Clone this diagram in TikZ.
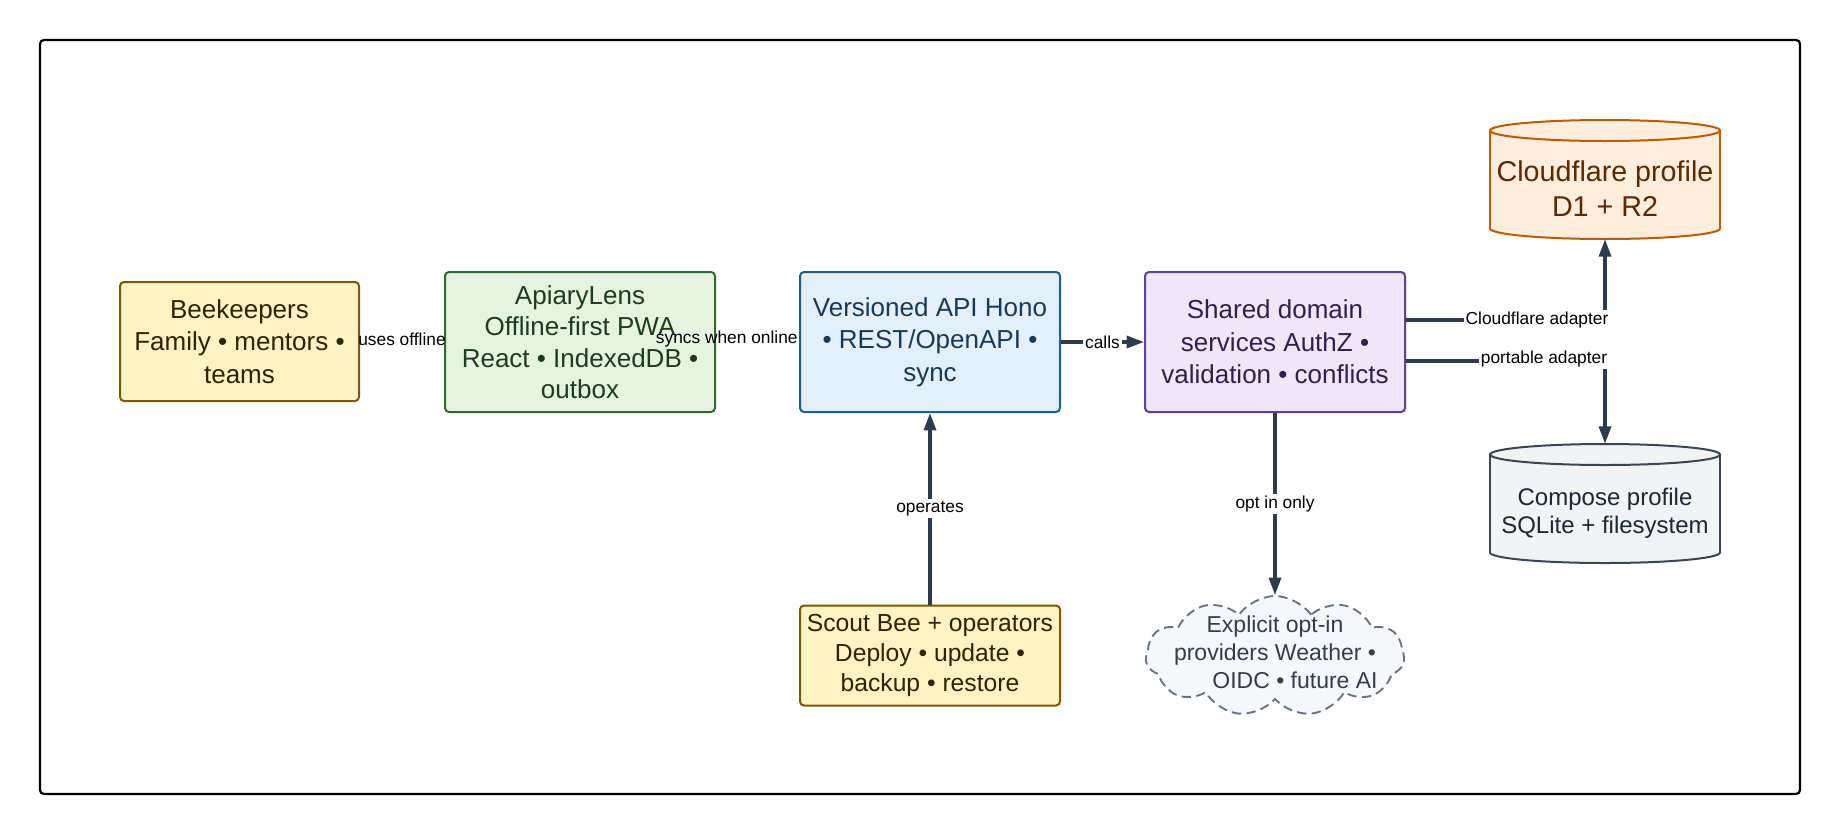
\documentclass[tikz,border=0pt]{standalone}
\usepackage{fontspec}
\setmainfont{Liberation Sans}
\usetikzlibrary{shapes.symbols,arrows.meta}
\definecolor{ylwfill}{HTML}{FFF3C4}
\definecolor{ylwline}{HTML}{7A5A00}
\definecolor{ylwtext}{HTML}{2E2300}
\definecolor{grnfill}{HTML}{E5F3E1}
\definecolor{grnline}{HTML}{2F6A2F}
\definecolor{grntext}{HTML}{1D3D1D}
\definecolor{blufill}{HTML}{E3EFF9}
\definecolor{bluline}{HTML}{215E8C}
\definecolor{blutext}{HTML}{173A58}
\definecolor{purfill}{HTML}{EFE7F8}
\definecolor{purline}{HTML}{5E4096}
\definecolor{purtext}{HTML}{2F2050}
\definecolor{orgfill}{HTML}{FFEEDE}
\definecolor{orgline}{HTML}{C25A00}
\definecolor{orgtext}{HTML}{5A2A00}
\definecolor{gryfill}{HTML}{F1F3F5}
\definecolor{gryline}{HTML}{3C4652}
\definecolor{grytext}{HTML}{1E2732}
\definecolor{cldfill}{HTML}{F5F7FA}
\definecolor{cldline}{HTML}{687380}
\definecolor{cldtext}{HTML}{343D48}
\definecolor{edgecol}{HTML}{2E3B4E}
\newcommand\mainfnt{\fontsize{19.5}{24.5}\selectfont}
\newcommand\lblfnt{\fontsize{13}{15}\selectfont}
\tikzset{
  box/.style={draw, rounded corners=3pt, line width=1.5pt, align=center, inner sep=0pt,
    minimum width=195pt, minimum height=105pt, font=\mainfnt},
  cyltext/.style={align=center, inner sep=0pt},
  edge/.style={draw=edgecol, line width=2.4pt, -{Triangle[length=13pt,width=9pt]}},
  elabel/.style={font=\lblfnt, text=black, inner sep=1.5pt},
  onwhite/.style={fill=white}
}
\begin{document}
\begin{tikzpicture}[x=0.75pt,y=-0.75pt]
\useasboundingbox (0,0) rectangle (1840,836);
\draw[line width=1.7pt, rounded corners=3pt] (40,40) rectangle (1800,794);

% boxes
\node[box, fill=ylwfill, draw=ylwline, text=ylwtext, minimum width=179.25pt, minimum height=89.25pt] (bk) at (239.5,341.5) {Beekeepers\\Family • mentors •\\teams};
\node[box, fill=grnfill, draw=grnline, text=grntext, minimum width=202.5pt, font=\fontsize{19.5}{23.6}\selectfont] (al) at (580,342) {ApiaryLens\\Offline-first PWA\\React • IndexedDB •\\outbox};
\node[box, fill=blufill, draw=bluline, text=blutext] (api) at (930,342) {Versioned API Hono\\• REST/OpenAPI •\\sync};
\node[box, fill=purfill, draw=purline, text=purtext] (sd) at (1275,342) {Shared domain\\services AuthZ •\\validation • conflicts};
\node[box, fill=ylwfill, draw=ylwline, text=ylwtext, minimum height=75pt, font=\fontsize{18.5}{22.5}\selectfont] (sc) at (930,655.5) {Scout Bee + operators\\Deploy • update •\\backup • restore};

% Cloudflare cylinder
\filldraw[fill=orgfill, draw=orgline, line width=1.5pt] (1605,228.5) ellipse [x radius=86.25pt, y radius=7.875pt];
\fill[orgfill] (1490,130.5) rectangle (1720,228.5);
\draw[orgline, line width=1.5pt] (1490,130.5) -- (1490,228.5) (1720,130.5) -- (1720,228.5);
\filldraw[fill=orgfill, draw=orgline, line width=1.5pt] (1605,130.5) ellipse [x radius=86.25pt, y radius=7.875pt];
\node[inner sep=0pt, minimum width=172.5pt, minimum height=89.25pt] (cf) at (1605,179.5) {};
\node[cyltext, text=orgtext, font=\fontsize{21.5}{26.25}\selectfont] (cft) at (1605,189) {Cloudflare profile\\D1 + R2};

% Compose cylinder
\filldraw[fill=gryfill, draw=gryline, line width=1.5pt] (1605,552.5) ellipse [x radius=86.25pt, y radius=7.875pt];
\fill[gryfill] (1490,454.5) rectangle (1720,552.5);
\draw[gryline, line width=1.5pt] (1490,454.5) -- (1490,552.5) (1720,454.5) -- (1720,552.5);
\filldraw[fill=gryfill, draw=gryline, line width=1.5pt] (1605,454.5) ellipse [x radius=86.25pt, y radius=7.875pt];
\node[inner sep=0pt, minimum width=172.5pt, minimum height=89.25pt] (cp) at (1605,503.5) {};
\node[cyltext, text=grytext, font=\fontsize{18}{21}\selectfont] (cpt) at (1605,513) {Compose profile\\SQLite + filesystem};

% cloud
\node[cloud, cloud puffs=11, cloud puff arc=110, aspect=2.2, draw=cldline, dashed, dash pattern=on 7pt off 4pt,
  fill=cldfill, line width=1.4pt, minimum width=194pt, minimum height=90pt, inner sep=0pt] (cl) at (1275,656) {};
\node[cyltext, text=cldtext, font=\fontsize{17.25}{21}\selectfont] (clt) at (1275,652) {Explicit opt-in\\providers Weather •\\\hspace*{30pt}OIDC • future AI};

% connectors
\path (bk.east) -- node[elabel, yshift=2pt] {uses offline} (al.west);
\path (al.east) -- node[elabel, pos=0.13, yshift=2pt] {syncs when online} (api.west);
\draw[edge] (api.east) -- node[elabel, onwhite] {calls} (sd.west);
\draw[edge] ([yshift=16.5pt]sd.east) -| (cf.south);
\node[elabel, onwhite] (lcf) at (1537,320) {Cloudflare adapter};
\draw[edge] ([yshift=-14.25pt]sd.east) -| (cp.north);
\node[elabel, onwhite] (lcp) at (1544,359) {portable adapter};
\draw[edge] (sd.south) -- node[elabel, onwhite] {opt in only} (cl.north);
\draw[edge] (sc.north) -- node[elabel, onwhite] {operates} (api.south);
\end{tikzpicture}
\end{document}
